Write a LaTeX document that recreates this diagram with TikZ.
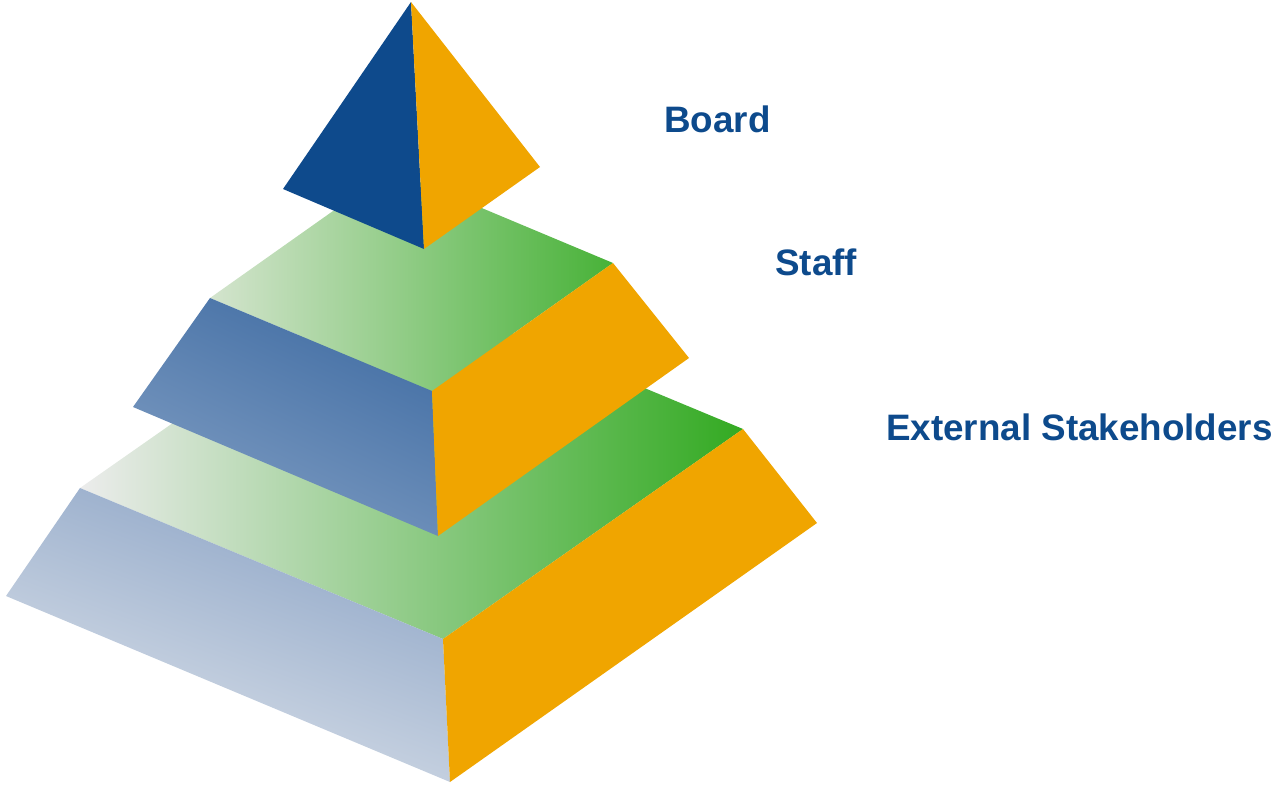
\documentclass[tikz,border=0pt]{standalone}
\usepackage{fontspec}
\setmainfont{Liberation Sans}
\begin{document}
\definecolor{tierorange}{HTML}{F0A500}
\definecolor{apexblue}{HTML}{0E4A8C}
\definecolor{labelblue}{HTML}{0D4A8C}
\definecolor{lowgreenL}{RGB}{236,236,236}
\definecolor{lowgreenM}{RGB}{168,216,154}
\definecolor{lowgreenR}{RGB}{51,170,34}
\definecolor{midgreenL}{RGB}{212,228,206}
\definecolor{midgreenM}{RGB}{146,204,132}
\definecolor{midgreenR}{RGB}{72,178,56}
\definecolor{lowblueT}{RGB}{140,164,198}
\definecolor{lowblueB}{RGB}{220,226,234}
\definecolor{midblueT}{RGB}{66,110,164}
\definecolor{midblueB}{RGB}{126,156,194}
\begin{tikzpicture}[x=1pt,y=-1pt,
  orangeface/.style={fill=tierorange},
  tierlabel/.style={anchor=base west,inner sep=0pt,text=labelblue,
    font=\fontsize{36.8}{40}\selectfont\bfseries}]
\useasboundingbox (0,0) rectangle (1278,785);

% apex pyramid
\coordinate (A)  at (411,2);
\coordinate (L)  at (283,189);
\coordinate (F)  at (424,249);
\coordinate (R)  at (540,167);
% middle tier
\coordinate (ML)  at (210,298);
\coordinate (MF)  at (432,391);
\coordinate (MR)  at (613,263);
\coordinate (MB)  at (391,170);
\coordinate (MLB) at (133,407);
\coordinate (MFB) at (438,536);
\coordinate (MRB) at (689,358);
% bottom tier
\coordinate (BL)  at (80,488);
\coordinate (BF)  at (443,639);
\coordinate (BR)  at (743,429);
\coordinate (BB)  at (380,278);
\coordinate (BLB) at (6,596);
\coordinate (BFB) at (450,782);
\coordinate (BRB) at (817,523);

% bottom tier
\shade[left color=lowgreenL, middle color=lowgreenM, right color=lowgreenR]
  (BL) -- (BF) -- (BR) -- (BB) -- cycle;
\shade[top color=lowblueT, bottom color=lowblueB, shading angle=-20]
  (BL) -- (BF) -- (BFB) -- (BLB) -- cycle;
\fill[orangeface] (BF) -- (BR) -- (BRB) -- (BFB) -- cycle;

% middle tier
\shade[left color=midgreenL, middle color=midgreenM, right color=midgreenR]
  (ML) -- (MF) -- (MR) -- (MB) -- cycle;
\shade[top color=midblueT, bottom color=midblueB, shading angle=-25]
  (ML) -- (MF) -- (MFB) -- (MLB) -- cycle;
\fill[orangeface] (MF) -- (MR) -- (MRB) -- (MFB) -- cycle;

% apex
\fill[apexblue] (A) -- (L) -- (F) -- cycle;
\fill[orangeface] (A) -- (F) -- (R) -- cycle;

% labels
\node[tierlabel] (board)    at (664,132) {Board};
\node[tierlabel] (staff)    at (775,275) {Staff};
\node[tierlabel] (external) at (886,440) {External Stakeholders};
\end{tikzpicture}
\end{document}
